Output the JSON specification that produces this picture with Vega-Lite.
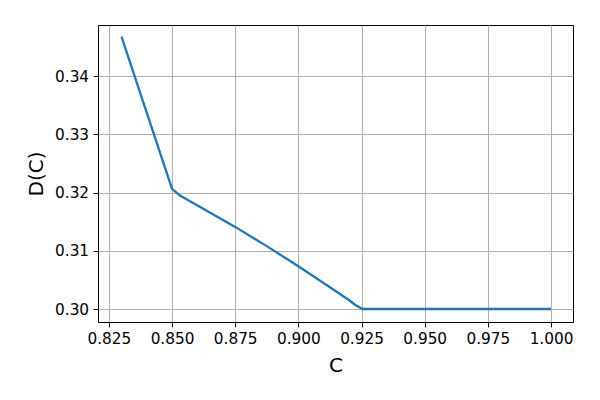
{
  "$schema": "https://vega.github.io/schema/vega-lite/v6.json",
  "width": 475,
  "height": 297,
  "autosize": {"type": "none"},
  "padding": {"left": 98, "top": 25, "right": 27, "bottom": 78},
  "background": "white",
  "config": {
    "view": {"stroke": "black", "strokeWidth": 1},
    "font": "DejaVu Sans",
    "axis": {
      "labelFont": "DejaVu Sans",
      "titleFont": "DejaVu Sans",
      "labelFontSize": 15.3,
      "titleFontSize": 20,
      "titleFontWeight": "normal",
      "labelColor": "black",
      "titleColor": "black",
      "tickColor": "black",
      "tickSize": 4.9,
      "tickWidth": 1,
      "labelPadding": 4.5,
      "domain": false,
      "gridColor": "#b0b0b0",
      "gridWidth": 1.1
    }
  },
  "data": {
    "values": [
      {"C": 0.830, "D": 0.34677},
      {"C": 0.850, "D": 0.32064},
      {"C": 0.853, "D": 0.31954},
      {"C": 0.875, "D": 0.31410},
      {"C": 0.8875, "D": 0.31080},
      {"C": 0.900, "D": 0.30733},
      {"C": 0.9125, "D": 0.30375},
      {"C": 0.920, "D": 0.30155},
      {"C": 0.9224, "D": 0.30074},
      {"C": 0.9254, "D": 0.30000},
      {"C": 0.950, "D": 0.30000},
      {"C": 0.975, "D": 0.30000},
      {"C": 1.000, "D": 0.30000}
    ]
  },
  "mark": {"type": "line", "color": "#1f77b4", "strokeWidth": 2.3, "clip": true},
  "encoding": {
    "x": {
      "field": "C",
      "type": "quantitative",
      "title": "C",
      "scale": {"domain": [0.8207, 1.0087], "nice": false, "zero": false},
      "axis": {"values": [0.825, 0.85, 0.875, 0.9, 0.925, 0.95, 0.975, 1.0], "format": ".3f", "titlePadding": 9, "labelFlush": false, "labelOverlap": false}
    },
    "y": {
      "field": "D",
      "type": "quantitative",
      "title": "D(C)",
      "scale": {"domain": [0.29777, 0.34876], "nice": false, "zero": false},
      "axis": {"values": [0.30, 0.31, 0.32, 0.33, 0.34], "format": ".2f", "titlePadding": 8, "labelFlush": false, "labelOverlap": false}
    }
  }
}
